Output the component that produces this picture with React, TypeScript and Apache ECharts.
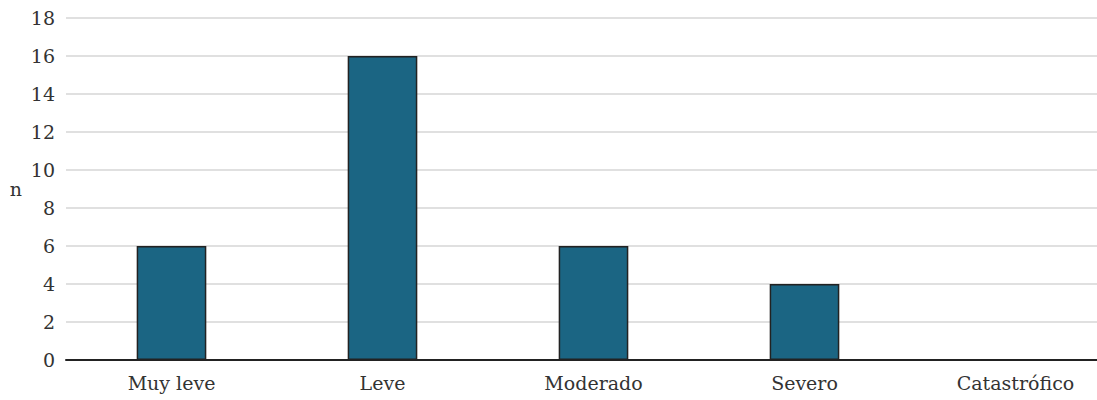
import React, { useEffect, useRef } from "react";
import * as echarts from "echarts";

const categories = ["Muy leve", "Leve", "Moderado", "Severo", "Catastrófico"];
const values = [6, 16, 6, 4, 0];
const yTicks = { min: 0, max: 18, interval: 2 };

const FONT = "DejaVu Serif";

export default function App() {
  const ref = useRef<HTMLDivElement>(null);
  useEffect(() => {
    document.body.style.margin = "0";
    const chart = echarts.init(ref.current!, null, { renderer: "svg" });
    chart.setOption({
      animation: false,
      textStyle: { fontFamily: FONT },
      grid: { left: 66, right: 0, top: 18, bottom: 40, containLabel: false },
      xAxis: {
        type: "category",
        data: categories,
        axisTick: { show: false },
        axisLine: { lineStyle: { color: "#222", width: 2 } },
        axisLabel: { color: "#333", fontSize: 19, fontFamily: FONT, margin: 13 },
        splitLine: { show: false },
      },
      yAxis: {
        type: "value",
        min: yTicks.min,
        max: yTicks.max,
        interval: yTicks.interval,
        name: "n",
        nameLocation: "middle",
        nameRotate: 0,
        nameGap: 44,
        nameTextStyle: { color: "#333", fontSize: 19, fontFamily: FONT },
        axisLine: { show: false },
        axisTick: { show: false },
        axisLabel: { color: "#333", fontSize: 19, fontFamily: FONT, margin: 11 },
        splitLine: { lineStyle: { color: "#d6d6d6", width: 1.5 } },
      },
      series: [
        {
          type: "bar",
          data: values,
          barWidth: "33%",
          itemStyle: { color: "#1b6583", borderColor: "#222", borderWidth: 1.5 },
        },
      ],
    });
    return () => chart.dispose();
  }, []);
  return (
    <div style={{ width: 1097, height: 400, overflow: "hidden" }}>
      <div ref={ref} style={{ width: 1121, height: 400 }} />
    </div>
  );
}
